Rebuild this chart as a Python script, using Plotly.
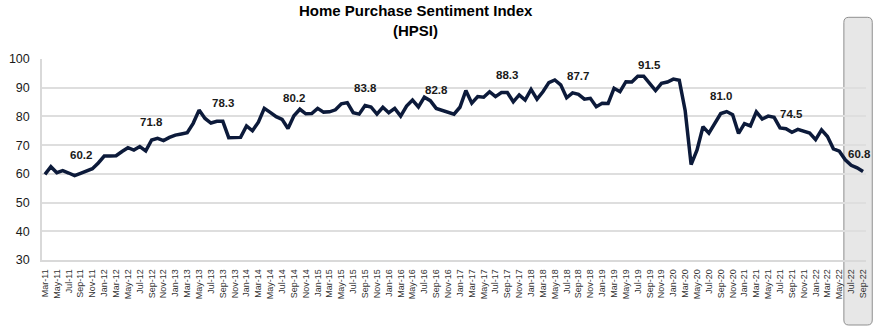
import plotly.graph_objects as go

# ---- data ----
month_names = ["Jan", "Feb", "Mar", "Apr", "May", "Jun", "Jul", "Aug", "Sep", "Oct", "Nov", "Dec"]
categories = []
for yr in range(2011, 2023):
    for m in range(12):
        if (yr == 2011 and m < 2) or (yr == 2022 and m > 8):
            continue
        categories.append(f"{month_names[m]}-{str(yr)[2:]}")

hpsi = [
    59.8, 62.5, 60.4, 61.1, 60.3, 59.4, 60.2, 61.0, 61.8, 63.8,
    66.2, 66.2, 66.3, 67.8, 69.1, 68.3, 69.5, 68.0, 71.8, 72.4,
    71.6, 72.7, 73.5, 73.9, 74.3, 77.6, 82.2, 79.3, 77.7, 78.3,
    78.3, 72.6, 72.8, 72.7, 76.7, 75.0, 78.0, 82.8, 81.4, 79.9,
    79.0, 75.8, 80.2, 82.5, 80.9, 81.0, 82.8, 81.5, 81.6, 82.3,
    84.4, 84.8, 81.3, 80.8, 83.8, 83.3, 80.8, 83.2, 81.3, 82.8,
    80.1, 83.6, 85.7, 83.3, 86.7, 85.5, 82.8, 82.2, 81.5, 80.8,
    83.2, 89.0, 84.6, 86.9, 86.7, 88.6, 86.9, 88.3, 88.3, 85.1,
    87.5, 85.7, 89.4, 86.0, 88.6, 91.8, 92.7, 91.0, 86.5, 88.2,
    87.7, 86.0, 86.3, 83.4, 84.6, 84.5, 89.8, 88.6, 92.1, 92.0,
    94.0, 94.0, 91.5, 89.0, 91.5, 92.0, 93.0, 92.6, 82.0, 63.2,
    68.3, 76.4, 74.2, 77.4, 81.0, 81.7, 80.6, 74.1, 77.5, 76.7,
    81.6, 79.1, 80.1, 79.7, 76.0, 75.7, 74.5, 75.5, 74.8, 74.2,
    71.9, 75.3, 73.0, 68.7, 67.9, 64.9, 63.0, 62.1, 60.8,
]

label_months = ["Sep-11", "Sep-12", "Sep-13", "Sep-14", "Sep-15", "Sep-16",
                "Sep-17", "Sep-18", "Sep-19", "Sep-20", "Sep-21", "Sep-22"]
label_texts = ["60.2", "71.8", "78.3", "80.2", "83.8", "82.8",
               "88.3", "87.7", "91.5", "81.0", "74.5", "60.8"]

title_lines = ["Home Purchase Sentiment Index", "(HPSI)"]

y_ticks = [30, 40, 50, 60, 70, 80, 90, 100]
x_tickvals = categories[::2]

# ---- figure ----
FONT = "Liberation Sans, Arial, sans-serif"
fig = go.Figure()
fig.add_trace(go.Scatter(
    x=categories, y=hpsi, mode="lines",
    line=dict(color="#0c1a3a", width=3.5),
    hoverinfo="x+y", showlegend=False,
))

L, R, T, B = 38, 9, 59, 68
W, H = 877, 328
pw, ph = W - L - R, H - T - B
def px(xp):
    return (xp - L) / pw
def py(yp):
    return (H - B - yp) / ph

annotations = []
for mth, txt in zip(label_months, label_texts):
    idx = categories.index(mth)
    annotations.append(dict(
        x=mth, y=hpsi[idx], xref="x", yref="y", text=f"<b>{txt}</b>",
        showarrow=False, yshift=18, xshift=(-4 if idx == len(categories) - 1 else 0),
        font=dict(family=FONT, size=11.5, color="#1a1a1a"),
    ))
for line_text, ypix in zip(title_lines, [10, 31]):
    annotations.append(dict(
        x=px(414.5), y=py(ypix), xref="paper", yref="paper",
        xanchor="center", yanchor="middle", showarrow=False,
        text=f"<b>{line_text}</b>",
        font=dict(family=FONT, size=15, color="#000000"),
    ))

# highlight box (pixel geometry converted to paper coords)
x0, x1 = px(845.7), px(874.3)
y0, y1 = py(325), py(17.3)
rx, ry = 5 / pw, 5 / ph
path = (f"M {x0+rx},{y0} L {x1-rx},{y0} Q {x1},{y0} {x1},{y0+ry} "
        f"L {x1},{y1-ry} Q {x1},{y1} {x1-rx},{y1} L {x0+rx},{y1} "
        f"Q {x0},{y1} {x0},{y1-ry} L {x0},{y0+ry} Q {x0},{y0} {x0+rx},{y0} Z")

fig.update_layout(
    width=W, height=H,
    margin=dict(l=L, r=R, t=T, b=B),
    paper_bgcolor="white", plot_bgcolor="rgba(0,0,0,0)",
    font=dict(family=FONT, color="#1a1a1a"),
    annotations=annotations,
    shapes=[dict(type="path", path=path, xref="paper", yref="paper",
                 fillcolor="#e7e7e7", line=dict(color="#8f8f8f", width=1),
                 layer="below")],
    xaxis=dict(
        type="category", categoryorder="array", categoryarray=categories,
        range=[-0.5, len(categories) - 0.5],
        tickmode="array", tickvals=x_tickvals, ticktext=x_tickvals,
        tickangle=-90, tickfont=dict(family=FONT, size=9, color="#333333"),
        showgrid=False, showline=True, linecolor="#d9d9d9", linewidth=1.5,
        ticks="outside", ticklen=4, tickcolor="rgba(0,0,0,0)",
        zeroline=False, fixedrange=True,
    ),
    yaxis=dict(
        range=[30, 100], tickmode="array", tickvals=y_ticks,
        tickfont=dict(family=FONT, size=12.5, color="#1a1a1a"),
        showgrid=True, gridcolor="#dedede", gridwidth=1.5,
        showline=True, linecolor="#d9d9d9", linewidth=1.5,
        ticks="outside", ticklen=8, tickcolor="rgba(0,0,0,0)",
        zeroline=False, fixedrange=True,
    ),
)

fig.write_html("out.html")
